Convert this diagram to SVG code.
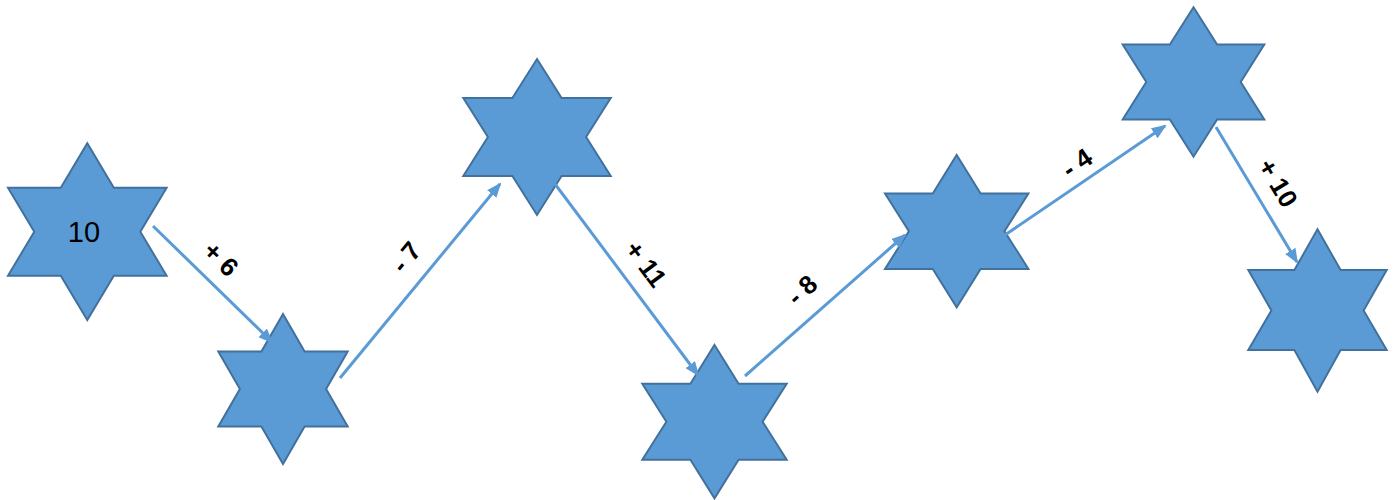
<svg xmlns="http://www.w3.org/2000/svg" width="1397" height="500" viewBox="0 0 1397 500">
<style>
.star{fill:#5B9BD5;stroke:#41719C;stroke-width:2;stroke-linejoin:miter}
.conn{stroke:#5B9BD5;stroke-width:3;fill:none;marker-end:url(#arr)}
.lbl{font-family:"Liberation Sans",Arial,sans-serif;font-weight:bold;font-size:26px;fill:#000;text-anchor:middle;dominant-baseline:central}
.num{font-family:"Liberation Sans",Arial,sans-serif;font-size:29px;fill:#000;text-anchor:middle;dominant-baseline:central}
</style>
<defs>
<marker id="arr" markerUnits="userSpaceOnUse" markerWidth="15" markerHeight="12" viewBox="0 0 15 12" refX="13" refY="6" orient="auto">
<path d="M0,0 L15,6 L0,12 z" fill="#5B9BD5"/>
</marker>
</defs>
<rect width="1397" height="500" fill="#fff"/>
<g id="star1">
<polygon class="star" points="87.3,143.3 113.8,187.7 166.6,187.7 140.3,231.7 166.6,275.7 113.8,275.7 87.3,320 60.8,275.7 8,275.7 34.3,231.7 8,187.7 60.8,187.7"/>
<text class="num" x="84" y="232">10</text>
</g>
<g id="star2">
<polygon class="star" points="283,314 304.6,351.5 347.7,351.5 326.1,389 347.7,426.5 304.6,426.5 283,464 261.4,426.5 218.3,426.5 239.9,389 218.3,351.5 261.4,351.5"/>
</g>
<g id="star3">
<polygon class="star" points="537,59 561.6,98 610.7,98 586.1,137 610.7,176 561.6,176 537,215 512.4,176 463.3,176 487.9,137 463.3,98 512.4,98"/>
</g>
<g id="star4">
<polygon class="star" points="714.5,345 738.6,383.7 786.7,383.7 762.6,421.7 786.7,459.7 738.6,459.7 714.5,498.4 690.4,459.7 642.3,459.7 666.4,421.7 642.3,383.7 690.4,383.7"/>
</g>
<g id="star5">
<polygon class="star" points="956.7,155 980.6,193.5 1028.4,193.5 1004.5,231.2 1028.4,268.9 980.6,268.9 956.7,307.4 932.8,268.9 885,268.9 908.9,231.2 885,193.5 932.8,193.5"/>
</g>
<g id="star6">
<polygon class="star" points="1193.5,7.3 1217.1,44.6 1264.3,44.6 1240.7,82 1264.3,119.4 1217.1,119.4 1193.5,156.7 1169.9,119.4 1122.7,119.4 1146.3,82 1122.7,44.6 1169.9,44.6"/>
</g>
<g id="star7">
<polygon class="star" points="1317.5,229.3 1340.6,270 1386.7,270 1363.6,310.5 1386.7,350 1340.6,350 1317.5,391.7 1294.4,350 1248.3,350 1271.4,310.5 1248.3,270 1294.4,270"/>
</g>
<g id="connectors">
<line class="conn" x1="153" y1="226" x2="272" y2="342"/>
<line class="conn" x1="340" y1="378" x2="500" y2="184"/>
<line class="conn" x1="555" y1="184" x2="698" y2="375"/>
<line class="conn" x1="745" y1="376" x2="905" y2="235"/>
<line class="conn" x1="1005" y1="235" x2="1165" y2="126"/>
<line class="conn" x1="1216" y1="127" x2="1297" y2="262"/>
</g>
<g id="labels">
<text class="lbl" transform="translate(221,259) rotate(44)">+ 6</text>
<text class="lbl" transform="translate(406,257) rotate(-50)">- 7</text>
<text class="lbl" transform="translate(646,264) rotate(53)">+ 11</text>
<text class="lbl" transform="translate(802,290) rotate(-42)">- 8</text>
<text class="lbl" transform="translate(1077,163) rotate(-34)">- 4</text>
<text class="lbl" transform="translate(1278,183) rotate(59)">+ 10</text>
</g>
</svg>
